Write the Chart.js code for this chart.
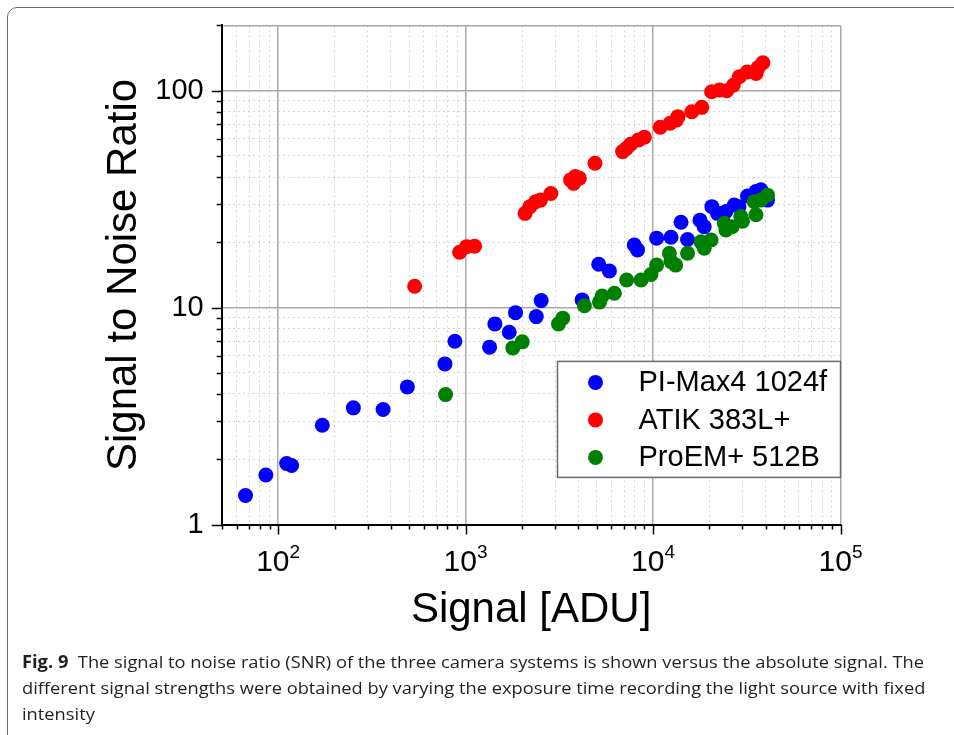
<!DOCTYPE html>
<html>
<head>
<meta charset="utf-8">
<script src="https://cdn.jsdelivr.net/npm/chart.js@4.4.1/dist/chart.umd.min.js"></script>
<style>
  html, body { margin: 0; padding: 0; background: #fff; overflow: hidden; }
  body { width: 954px; height: 735px; position: relative; }
  #frame { position: absolute; left: 7px; top: 7px; width: 990px; height: 780px;
           border: 1.5px solid #6e6e6e; border-radius: 10px 0 0 0; box-sizing: border-box; }
  #wrap { position: absolute; left: 0; top: 0; width: 954px; height: 650px; }
  #caption { position: absolute; left: 22px; top: 649px; font-family: "Open Sans", sans-serif;
             font-size: 17px; line-height: 26px; color: #231f20; white-space: nowrap;
             transform-origin: 0 0; }
  #caption b { font-weight: 700; }
</style>
</head>
<body>
<div id="frame"></div>
<div id="wrap"><canvas id="snrChart"></canvas></div>
<div id="caption">
  <div id="capLine1"><b>Fig. 9</b>&nbsp; The signal to noise ratio (SNR) of the three camera systems is shown versus the absolute signal. The</div>
  <div>different signal strengths were obtained by varying the exposure time recording the light source with fixed</div>
  <div>intensity</div>
</div>
<script>
'use strict'

// PI-Max4 1024f
const piMaxSignal = [67, 86, 111, 118, 172, 252, 363, 489, 776, 877, 1343, 1433, 1709, 1847, 2382, 2530,
    4184, 5130, 5850, 7940, 8270, 10450, 12470, 14100, 15280, 17800, 18750, 20600, 22070, 24470,
    27100, 28700, 31900, 35380, 37600, 40800];
const piMaxSnr = [1.36, 1.69, 1.91, 1.87, 2.87, 3.45, 3.39, 4.31, 5.5, 7.0, 6.57, 8.41, 7.7, 9.48, 9.09, 10.77,
    10.85, 15.85, 14.76, 19.45, 18.45, 20.9, 21.1, 24.75, 20.6, 25.3, 23.6, 29.2, 27.2, 27.7,
    29.7, 29.2, 32.7, 34.3, 34.9, 31.3];

// ATIK 383L+
const atikSignal = [535, 929, 1013, 1117, 2077, 2203, 2369, 2509, 2851, 3630, 3770, 3851, 4048, 4900,
    6884, 7230, 7590, 8360, 8990, 10920, 12330, 13300, 13580, 16100, 18190, 20530, 22600, 24700,
    26800, 28850, 31780, 35480, 36400, 38540];
const atikSnr = [12.55, 18.0, 19.1, 19.2, 27.2, 29.2, 30.8, 31.3, 33.6, 38.8, 37.4, 40.2, 39.5, 46.3,
    52.4, 54.3, 56.6, 59.3, 61.0, 67.8, 70.8, 73.2, 75.9, 80.0, 83.8, 98.9, 100.7, 100,
    106, 116, 122, 120, 128, 134.6];

// ProEM+ 512B
const proemSignal = [782, 1786, 2005, 3130, 3300, 4305, 5180, 5350, 6220, 7230, 8630, 9750, 10450,
    12220, 12470, 13200, 15280, 18020, 18750, 20400, 24000, 24470, 26400, 29400, 30000, 34700,
    35400, 37600, 40800];
const proemSnr = [3.97, 6.52, 6.95, 8.41, 8.94, 10.2, 10.6, 11.3, 11.65, 13.4, 13.4, 14.2, 15.7,
    17.8, 16.3, 15.7, 17.8, 20.1, 18.8, 20.5, 24.5, 22.8, 23.6, 26.3, 25.0, 30.8,
    26.8, 31.3, 33.0];

const seriesNames = ['PI-Max4 1024f', 'ATIK 383L+', 'ProEM+ 512B'];
const seriesColors = ['#0000ff', '#ff0000', '#008000'];

const xMin = 50, xMax = 100000;
const yMin = 1, yMax = 200;

const fontFamily = '"Liberation Sans", Arial, sans-serif';

function toPoints(xs, ys) {
    return xs.map((x, i) => ({ x: x, y: ys[i] }));
}

function isDecade(v) {
    const l = Math.log10(v);
    return Math.abs(l - Math.round(l)) < 1e-9;
}

// decades and the frame edge at the axis max get the solid grey line
function isMajorLine(ctx) {
    if (!ctx.tick) return false;
    return isDecade(ctx.tick.value) || ctx.tick.value === ctx.scale.max;
}

// drop the 1.5 x 10^n ticks chart.js adds on log axes
function dropHalfTicks(scale) {
    scale.ticks = scale.ticks.filter(t => {
        const m = t.value / Math.pow(10, Math.floor(Math.log10(t.value) + 1e-9));
        return Math.abs(m - 1.5) > 1e-6;
    });
}

const decorPlugin = {
    id: 'decor',
    afterDraw(chart) {
        const { ctx, chartArea: a, scales: { x, y } } = chart;
        ctx.save();
        ctx.strokeStyle = '#000';
        ctx.lineWidth = 1.5;
        ctx.beginPath();
        x.ticks.forEach(t => {
            const px = Math.round(x.getPixelForValue(t.value)) + 0.5;
            const len = isDecade(t.value) ? 10 : 5;
            ctx.moveTo(px, a.bottom);
            ctx.lineTo(px, a.bottom + len);
        });
        y.ticks.forEach(t => {
            const py = Math.round(y.getPixelForValue(t.value)) + 0.5;
            const len = isDecade(t.value) ? 10 : 5;
            ctx.moveTo(a.left, py);
            ctx.lineTo(a.left - len, py);
        });
        ctx.stroke();

        // x tick labels as 10 with a raised exponent
        ctx.fillStyle = '#000';
        ctx.textBaseline = 'alphabetic';
        ctx.textAlign = 'left';
        x.ticks.filter(t => isDecade(t.value)).forEach(t => {
            const px = x.getPixelForValue(t.value);
            const e = String(Math.round(Math.log10(t.value)));
            ctx.font = '30px ' + fontFamily;
            const w1 = ctx.measureText('10').width;
            ctx.font = '19px ' + fontFamily;
            const w2 = ctx.measureText(e).width;
            const left = px - (w1 + w2) / 2;
            ctx.font = '30px ' + fontFamily;
            ctx.fillText('10', left, a.bottom + 46);
            ctx.font = '19px ' + fontFamily;
            ctx.fillText(e, left + w1, a.bottom + 33);
        });

        // legend box
        const bw = 283, bh = 116;
        const bx = a.right - bw, by = a.top + 336;
        ctx.fillStyle = '#fff';
        ctx.fillRect(bx, by, bw, bh);
        ctx.strokeStyle = '#6a6a6a';
        ctx.lineWidth = 1.5;
        ctx.strokeRect(bx, by, bw, bh);
        ctx.font = '29px ' + fontFamily;
        ctx.textBaseline = 'middle';
        chart.data.datasets.forEach((ds, i) => {
            const cy = by + 21 + i * 37.5;
            ctx.fillStyle = ds.backgroundColor;
            ctx.beginPath();
            ctx.arc(bx + 38, cy, 7.5, 0, Math.PI * 2);
            ctx.fill();
            ctx.fillStyle = '#000';
            ctx.fillText(ds.label, bx + 81, cy + 1);
        });
        ctx.restore();
    }
};

const gridOpts = {
    color: ctx => isMajorLine(ctx) ? '#a9a9a9' : '#d6d6d6',
    lineWidth: ctx => isMajorLine(ctx) ? 1.5 : 1,
    tickColor: 'rgba(0,0,0,0)',
    tickLength: 10
};
const borderOpts = {
    color: '#000',
    width: 2,
    dash: ctx => (ctx.tick && !isMajorLine(ctx)) ? [2, 3] : []
};

const allSignal = [piMaxSignal, atikSignal, proemSignal];
const allSnr = [piMaxSnr, atikSnr, proemSnr];

new Chart(document.getElementById('snrChart').getContext('2d'), {
    type: 'scatter',
    data: {
        datasets: seriesNames.map((name, i) => ({
            label: name,
            data: toPoints(allSignal[i], allSnr[i]),
            backgroundColor: seriesColors[i],
            borderWidth: 0,
            pointRadius: 7.5,
            order: 2 - i
        }))
    },
    options: {
        responsive: true,
        maintainAspectRatio: false,
        animation: false,
        events: [],
        layout: { padding: { left: 0, top: 25.4, right: 113.5, bottom: 0 } },
        plugins: { legend: { display: false }, tooltip: { enabled: false } },
        scales: {
            x: {
                type: 'logarithmic',
                min: xMin,
                max: xMax,
                afterBuildTicks: dropHalfTicks,
                afterFit: scale => { scale.height = 125.5; },
                grid: gridOpts,
                border: borderOpts,
                ticks: { display: false, autoSkip: false },
                title: {
                    display: true,
                    text: 'Signal [ADU]',
                    color: '#000',
                    font: { family: fontFamily, size: 42 },
                    padding: { top: 0, bottom: 14.5 }
                }
            },
            y: {
                type: 'logarithmic',
                min: yMin,
                max: yMax,
                afterBuildTicks: dropHalfTicks,
                afterFit: scale => { scale.width = 221.7; },
                grid: gridOpts,
                border: borderOpts,
                ticks: {
                    autoSkip: false,
                    color: '#000',
                    padding: 8,
                    font: { family: fontFamily, size: 29 },
                    callback: v => isDecade(v) ? String(v) : ''
                },
                title: {
                    display: true,
                    text: 'Signal to Noise Ratio',
                    color: '#000',
                    font: { family: fontFamily, size: 42 },
                    padding: { top: 99, bottom: 0 }
                }
            }
        }
    },
    plugins: [decorPlugin]
});

// squeeze the caption to the width of the printed caption
(function fitCaption() {
    const cap = document.getElementById('caption');
    const line = document.getElementById('capLine1');
    const w = line.scrollWidth;
    cap.style.transform = 'scaleX(' + (903 / w) + ')';
})();
</script>
</body>
</html>
